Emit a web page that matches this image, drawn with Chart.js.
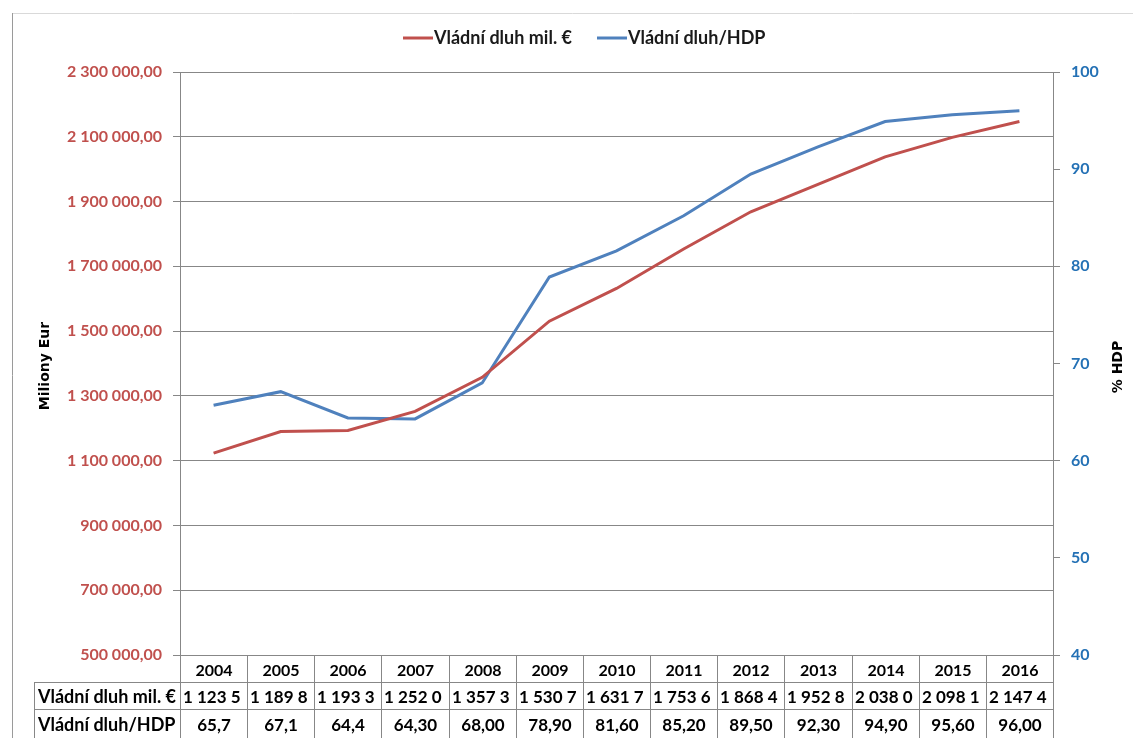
<!DOCTYPE html>
<html>
<head>
<meta charset="utf-8">
<script src="https://cdn.jsdelivr.net/npm/chart.js@4.4.1/dist/chart.umd.min.js"></script>
<style>
  html, body { margin: 0; padding: 0; background: #ffffff; }
  #wrap { width: 1133px; height: 738px; position: relative; }
</style>
</head>
<body>
<div id="wrap"><canvas id="c" width="1133" height="738"></canvas></div>
<script>
// Vládní dluh v milionech € a poměr dluhu k HDP (%)
const years = ['2004', '2005', '2006', '2007', '2008', '2009', '2010', '2011', '2012', '2013', '2014', '2015', '2016'];
const debtMil = [1123500, 1189800, 1193300, 1252000, 1357300, 1530700, 1631700, 1753600, 1868400, 1952800, 2038000, 2098100, 2147400];
const debtRatio = [65.7, 67.1, 64.4, 64.3, 68.0, 78.9, 81.6, 85.2, 89.5, 92.3, 94.9, 95.6, 96.0];
const ratioDecimals = [1, 1, 1, 2, 2, 2, 2, 2, 2, 2, 2, 2, 2];
const seriesNames = ['Vládní dluh mil. €', 'Vládní dluh/HDP'];
const axisTitles = ['Miliony Eur', '% HDP'];

const RED = '#C0504D';
const BLUE = '#4F81BD';
const GRID = '#878787';
const FONT = 'Lato, "Open Sans", sans-serif';
const TITLE_FONT = '"DejaVu Sans", Verdana, sans-serif';

// Czech number format: non-breaking space thousands, comma decimals
function fmtCz(v, dec) {
  const parts = v.toFixed(dec).split('.');
  const int = parts[0].replace(/\B(?=(\d{3})+(?!\d))/g, '\u00a0');
  return parts[1] ? int + ',' + parts[1] : int;
}

// Text cut to whole glyphs so it stays inside its cell
function fitText(ctx, s, w) {
  while (s.length && ctx.measureText(s).width > w) s = s.slice(0, -1);
  return s.replace(/\s+$/, '');
}

const framePlugin = {
  id: 'frame',
  beforeDraw(chart) {
    const ctx = chart.ctx;
    ctx.save();
    ctx.fillStyle = '#ffffff';
    ctx.fillRect(0, 0, chart.width, chart.height);
    ctx.strokeStyle = '#d9d9d9';
    ctx.lineWidth = 1;
    ctx.beginPath();
    ctx.moveTo(12, 13.5);
    ctx.lineTo(chart.width, 13.5);
    ctx.stroke();
    ctx.strokeStyle = '#9a9a9a';
    ctx.beginPath();
    ctx.moveTo(12.5, 13);
    ctx.lineTo(12.5, chart.height);
    ctx.stroke();
    ctx.restore();
  }
};

const decorPlugin = {
  id: 'decor',
  afterDraw(chart) {
    const ctx = chart.ctx;
    const area = chart.chartArea;
    const xs = chart.scales.x;
    ctx.save();

    // legend
    ctx.font = 'bold 18px ' + FONT;
    ctx.textBaseline = 'middle';
    ctx.textAlign = 'left';
    const legY = 38;
    const legendItems = [
      { x: 403, color: RED, text: seriesNames[0] },
      { x: 597, color: BLUE, text: seriesNames[1] }
    ];
    legendItems.forEach(it => {
      ctx.strokeStyle = it.color;
      ctx.lineWidth = 3;
      ctx.beginPath();
      ctx.moveTo(it.x, legY);
      ctx.lineTo(it.x + 30, legY);
      ctx.stroke();
      ctx.fillStyle = '#1a1a1a';
      ctx.fillText(it.text, it.x + 31, legY);
    });

    // axis titles
    ctx.fillStyle = '#000000';
    ctx.font = 'bold 14px ' + TITLE_FONT;
    ctx.textAlign = 'center';
    ctx.save();
    ctx.translate(45, 366);
    ctx.rotate(-Math.PI / 2);
    ctx.fillText(axisTitles[0], 0, 0);
    ctx.restore();
    ctx.save();
    ctx.translate(1118, 367);
    ctx.rotate(-Math.PI / 2);
    ctx.fillText(axisTitles[1], 0, 0);
    ctx.restore();

    // data table under the category axis
    const step = xs.getPixelForValue(1) - xs.getPixelForValue(0);
    const bounds = [];
    for (let i = 0; i <= years.length; i++) {
      bounds.push(Math.round(xs.getPixelForValue(0) - step / 2 + i * step));
    }
    const top = Math.round(area.bottom);
    const r1 = top + 27;
    const r2 = r1 + 27;
    const bottom = chart.height;
    const labelLeft = 34;

    ctx.strokeStyle = GRID;
    ctx.lineWidth = 1;
    ctx.beginPath();
    bounds.forEach(b => {
      ctx.moveTo(b + 0.5, top);
      ctx.lineTo(b + 0.5, bottom);
    });
    ctx.moveTo(labelLeft + 0.5, r1);
    ctx.lineTo(labelLeft + 0.5, bottom);
    ctx.moveTo(bounds[0], top + 0.5);
    ctx.lineTo(bounds[bounds.length - 1] + 1, top + 0.5);
    ctx.moveTo(labelLeft, r1 + 0.5);
    ctx.lineTo(bounds[bounds.length - 1] + 1, r1 + 0.5);
    ctx.moveTo(labelLeft, r2 + 0.5);
    ctx.lineTo(bounds[bounds.length - 1] + 1, r2 + 0.5);
    ctx.stroke();

    ctx.fillStyle = '#000000';
    ctx.textBaseline = 'middle';
    ctx.font = 'bold 16px ' + FONT;
    ctx.textAlign = 'center';
    years.forEach((y, i) => {
      ctx.fillText(y, (bounds[i] + bounds[i + 1]) / 2 + 0.5, (top + r1) / 2 + 2);
    });

    ctx.textAlign = 'left';
    ctx.font = 'bold 18px ' + FONT;
    ctx.fillText(seriesNames[0], labelLeft + 4, (r1 + r2) / 2 + 2);
    ctx.fillText(seriesNames[1], labelLeft + 4, (r2 + bottom) / 2 + 2);

    ctx.font = 'bold 17px ' + FONT;
    debtMil.forEach((v, i) => {
      const w = bounds[i + 1] - bounds[i];
      const s = fitText(ctx, fmtCz(v, 1), w - 6);
      ctx.fillText(s, bounds[i] + 3, (r1 + r2) / 2 + 2);
    });
    ctx.textAlign = 'center';
    debtRatio.forEach((v, i) => {
      ctx.fillText(fmtCz(v, ratioDecimals[i]), (bounds[i] + bounds[i + 1]) / 2 + 0.5, (r2 + bottom) / 2 + 2);
    });

    ctx.restore();
  }
};

new Chart(document.getElementById('c'), {
  type: 'line',
  data: {
    labels: years,
    datasets: [
      {
        label: seriesNames[0],
        data: debtMil,
        yAxisID: 'y',
        borderColor: RED,
        backgroundColor: RED,
        borderWidth: 3,
        pointRadius: 0,
        tension: 0
      },
      {
        label: seriesNames[1],
        data: debtRatio,
        yAxisID: 'y1',
        borderColor: BLUE,
        backgroundColor: BLUE,
        borderWidth: 3,
        pointRadius: 0,
        tension: 0
      }
    ]
  },
  options: {
    responsive: false,
    devicePixelRatio: 1,
    animation: false,
    layout: { padding: { top: 72, left: 0, right: 0, bottom: 0 } },
    plugins: {
      legend: { display: false },
      tooltip: { enabled: false }
    },
    scales: {
      x: {
        type: 'category',
        offset: true,
        grid: { display: false },
        border: { display: false },
        ticks: { display: false },
        afterFit(s) { s.height = 83; }
      },
      y: {
        position: 'left',
        min: 500000,
        max: 2300000,
        ticks: {
          stepSize: 200000,
          color: RED,
          padding: 11,
          font: { family: FONT, size: 16, weight: 'bold' },
          callback: v => fmtCz(v, 2)
        },
        grid: { color: GRID, lineWidth: 1, tickLength: 7 },
        border: { color: GRID, width: 1 },
        afterFit(s) { s.width = 180; }
      },
      y1: {
        position: 'right',
        min: 40,
        max: 100,
        ticks: {
          stepSize: 10,
          color: '#2471B5',
          padding: 11,
          font: { family: FONT, size: 16, weight: 'bold' }
        },
        grid: { drawOnChartArea: false, color: GRID, tickLength: 7 },
        border: { color: GRID, width: 1 },
        afterFit(s) { s.width = 80; }
      }
    }
  },
  plugins: [framePlugin, decorPlugin]
});
</script>
</body>
</html>
